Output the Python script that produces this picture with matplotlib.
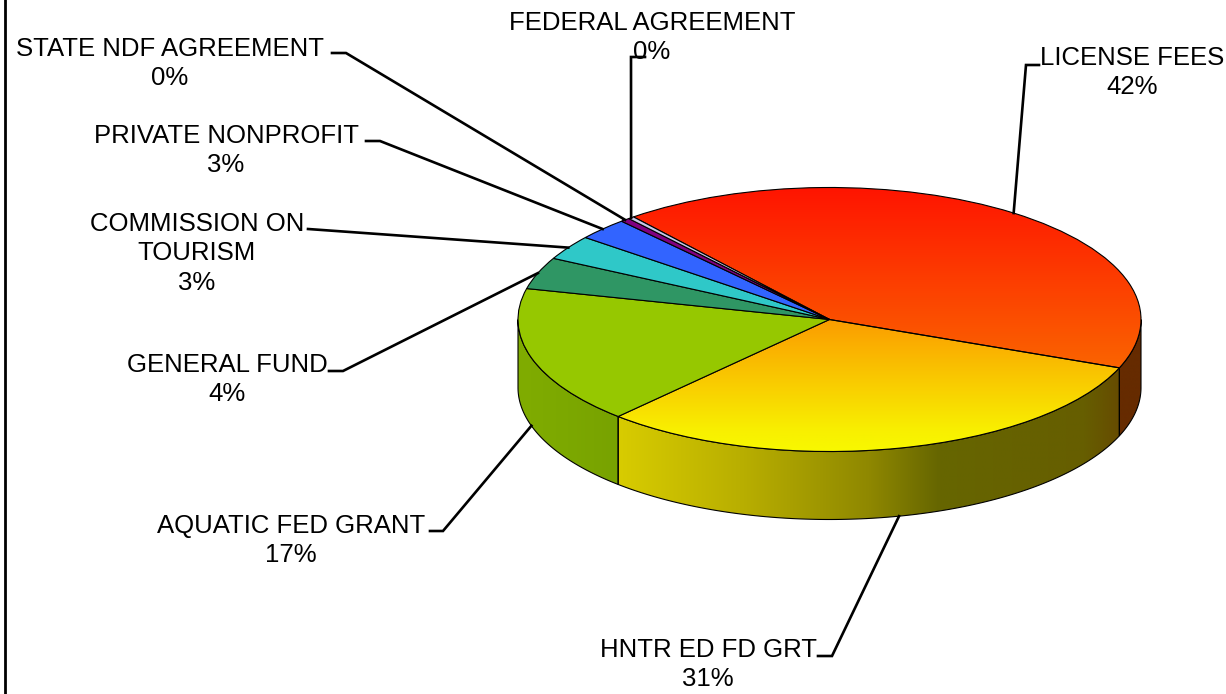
import numpy as np
import matplotlib
matplotlib.use("Agg")
import matplotlib.pyplot as plt
from matplotlib.colors import LinearSegmentedColormap
from matplotlib.patches import Polygon
from matplotlib.transforms import Affine2D

# --- DATA ---
names = ["LICENSE FEES", "HNTR ED FD GRT", "AQUATIC FED GRANT", "GENERAL FUND",
         "COMMISSION ON\nTOURISM", "PRIVATE NONPROFIT", "STATE NDF AGREEMENT",
         "FEDERAL AGREEMENT"]
shares = [41.8, 30.9, 16.9, 3.9, 3.0, 2.7, 0.49, 0.31]
colors = ["#FA5000", "#F8C800", "#96C800", "#2F9664", "#2FC8C8", "#3264FF",
          "#800080", "#C8C8E8"]

# --- LAYOUT (pixels of the picture) ---
W, H = 1226, 694
cx, cy, rx, ry = 829.5, 319.5, 311.5, 132
depth = 68
start_angle = 129
label_x = [1132, 708, 291, 227, 197, 226, 170, 652]
label_y = [46, 638, 514, 353, 212, 124, 37, 11]
elbows = [((1039, 65), (1026, 65)), ((818, 656), (832, 656)),
          ((430, 531), (443, 531)), ((329, 371), (343, 371)),
          ((308, 229), (322, 230)), ((366, 141), (380, 141)),
          ((332, 53), (346, 53)), ((645, 57), (631, 57))]

plt.rcParams["font.family"] = ["Liberation Sans", "DejaVu Sans"]

fig = plt.figure(figsize=(W / 100, H / 100), dpi=100)
ax = fig.add_axes([0, 0, 1, 1])
pix = Affine2D().scale(1, -1).translate(0, H)


def rim_point(theta, drop=0):
    t = np.radians(theta)
    return cx + rx * np.cos(t), cy - ry * np.sin(t) + drop


def fill_gradient(patch, cmap, extent, vertical=False):
    ramp = np.linspace(0, 1, 256)
    ramp = ramp[:, None] if vertical else ramp[None, :]
    im = ax.imshow(ramp, cmap=cmap, extent=extent, origin="upper", aspect="auto",
                   zorder=patch.get_zorder() - 0.5, vmin=0, vmax=1,
                   interpolation="bilinear")
    im.set_clip_path(patch)


wedges, _ = ax.pie(shares, colors=colors, startangle=start_angle, counterclock=False,
                   wedgeprops={"edgecolor": "black", "linewidth": 0.8, "zorder": 5})

# side walls, only the part that faces the viewer
wall_cmaps = {
    0: LinearSegmentedColormap.from_list("w0", ["#662B00", "#662B00"]),
    1: LinearSegmentedColormap.from_list(
        "w1", [(0, "#D8CC00"), (0.25, "#B8AE00"), (0.5, "#8F8800"), (0.64, "#666600"),
               (0.93, "#665E00"), (1, "#664C00")]),
    2: LinearSegmentedColormap.from_list("w2", ["#80AC00", "#7CA800", "#78A200"]),
}
for i, cmap in wall_cmaps.items():
    w = wedges[i]
    a, b = w.theta1 % 360, w.theta2 % 360
    if b < a:
        b += 360
    lo, hi = max(a, 180), min(b, 360)
    if b > 360:
        # slice crosses 0 degrees, its front part ends at 360
        lo, hi = a, 360
    ts = np.radians(np.linspace(lo, hi, 120))
    xs = np.cos(ts)
    ys = np.sin(ts)
    drop = depth / ry
    verts = np.vstack([np.c_[xs, ys], np.c_[xs[::-1], ys[::-1] - drop]])
    wall = Polygon(verts, closed=True, facecolor="none", edgecolor="black",
                   linewidth=0.8, zorder=3)
    ax.add_patch(wall)
    fill_gradient(wall, cmap, (xs.min(), xs.max(), -1 - drop, 1))

# vertical shading on the two warm slices
top_cmaps = {
    0: LinearSegmentedColormap.from_list("t0", ["#FF1400", "#FA6400"]),
    1: LinearSegmentedColormap.from_list("t1", [(0, "#FB9C00"), (0.85, "#F8F000"), (1, "#F8F800")]),
}
for i, cmap in top_cmaps.items():
    w = wedges[i]
    box = w.get_path().get_extents()
    w.set_facecolor("none")
    fill_gradient(w, cmap, (box.x0, box.x1, box.y0, box.y1), vertical=True)

# small dark tip behind the purple slice
mid = (wedges[6].theta1 + wedges[6].theta2) / 2
tip_x, tip_y = rim_point(mid)
ax.add_patch(Polygon([(tip_x - 3, tip_y - 1), (tip_x + 3, tip_y - 1), (tip_x + 3, tip_y + 7),
                      (tip_x - 3, tip_y + 7)], closed=True, facecolor="#4D004D",
                     edgecolor="none", transform=pix, zorder=2))

ax.set_aspect("auto")
ax.set_xlim((0 - cx) / rx, (W - cx) / rx)
ax.set_ylim((cy - H) / ry, cy / ry)
ax.axis("off")

# labels and leader lines
for i, name in enumerate(names):
    pct = round(shares[i])
    ax.text(label_x[i], label_y[i], f"{name}\n{pct}%", transform=pix, ha="center", va="top",
            fontsize=18.5, linespacing=1.28, color="black", zorder=8, clip_on=False)
    mid = (wedges[i].theta1 + wedges[i].theta2) / 2
    front = i in (1, 2)
    end = rim_point(mid, depth if front else 0)
    p0, p1 = elbows[i]
    ax.plot([p0[0], p1[0], end[0]], [p0[1], p1[1], end[1]], color="black", lw=1.9,
            transform=pix, zorder=7, solid_joinstyle="miter", clip_on=False)

# left border of the chart frame
ax.plot([5, 5], [0, H], color="black", lw=2.0, transform=pix, zorder=9, clip_on=False)

fig.savefig("out.png", dpi=100)
